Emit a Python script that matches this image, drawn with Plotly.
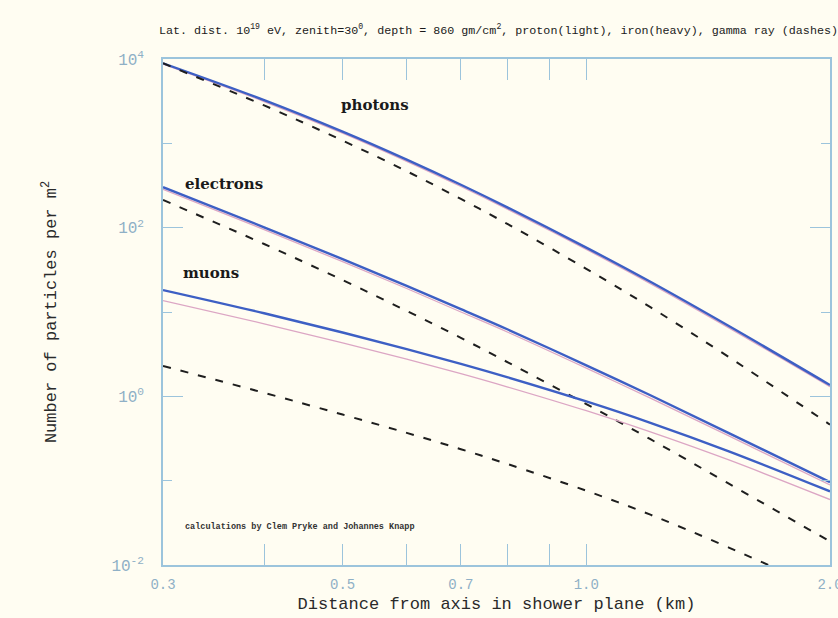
import math
import plotly.graph_objects as go

# Distance from shower axis (km)
r_km = [0.3, 0.4, 0.5, 0.6, 0.7, 0.8, 1.0, 1.2, 1.5, 2.0]

# Particle densities per m^2
photons_iron = [8900, 3254, 1377, 641, 323, 173, 58.0, 22.8, 6.81, 1.36]
photons_proton = [8700, 3130, 1320, 612, 308, 165, 55.2, 21.7, 6.48, 1.30]
photons_gamma = [8900, 2818, 1079, 467, 219, 110, 32.5, 11.4, 2.92, 0.462]

electrons_iron = [302, 101, 42.4, 20.4, 10.8, 6.2, 2.33, 1.03, 0.367, 0.096]
electrons_proton = [285, 95, 39.5, 19.0, 10.0, 5.75, 2.16, 0.95, 0.34, 0.089]
electrons_gamma = [213, 64, 23.9, 10.3, 4.93, 2.53, 0.81, 0.31, 0.092, 0.019]

muons_iron = [18.2, 9.66, 5.71, 3.63, 2.43, 1.68, 0.871, 0.486, 0.223, 0.0746]
muons_proton = [13.65, 7.25, 4.31, 2.76, 1.86, 1.29, 0.675, 0.379, 0.176, 0.0597]
muons_gamma = [2.29, 1.10, 0.608, 0.369, 0.236, 0.157, 0.076, 0.0395, 0.0161, 0.0047]

x_tick_vals = [0.3, 0.5, 0.7, 1.0, 2.0]
x_tick_text = ["0.3", "0.5", "0.7", "1.0", "2.0"]
x_minor_vals = [0.4, 0.6, 0.8, 0.9]
y_tick_vals = [0.01, 1, 100, 10000]
y_tick_text = ["10<sup>-2</sup>", "10<sup>0</sup>", "10<sup>2</sup>", "10<sup>4</sup>"]
y_minor_vals = [0.1, 10, 1000]

BG = "#fffdf2"
AXIS = "#9cc4dc"
TICKFONT = "#8fb0c6"
HEAVY = "#3d5fc4"
LIGHT = "#dca6c4"
GAMMA = "#1e1e1e"
MONO = "Liberation Mono"

fig = go.Figure()

for proton, iron, gamma in [
    (photons_proton, photons_iron, photons_gamma),
    (electrons_proton, electrons_iron, electrons_gamma),
    (muons_proton, muons_iron, muons_gamma),
]:
    fig.add_trace(go.Scatter(x=r_km, y=proton, mode="lines", line_shape="spline",
                             line=dict(color=LIGHT, width=1.3), showlegend=False))
    fig.add_trace(go.Scatter(x=r_km, y=iron, mode="lines", line_shape="spline",
                             line=dict(color=HEAVY, width=2.4), showlegend=False))
    fig.add_trace(go.Scatter(x=r_km, y=gamma, mode="lines", line_shape="spline",
                             line=dict(color=GAMMA, width=2, dash="8px,10px"),
                             showlegend=False))

def paper_x(px):
    return (px - 163) / 667

def paper_y(py):
    return (565 - py) / 506

labels = [("photons", 375, 105), ("electrons", 224, 184), ("muons", 211, 273)]
for text, px, py in labels:
    fig.add_annotation(text=f"<b>{text}</b>", x=paper_x(px), y=paper_y(py),
                       xref="paper", yref="paper", xanchor="center", yanchor="middle",
                       showarrow=False,
                       font=dict(family="DejaVu Serif", size=15, color="#1a1a1a"))

fig.add_annotation(text="<b>calculations by Clem Pryke and Johannes Knapp</b>",
                   x=paper_x(183), y=paper_y(527), xref="paper", yref="paper",
                   xanchor="left", yanchor="middle", showarrow=False,
                   font=dict(family=MONO, size=8.5, color="#333333"))

fig.update_layout(
    width=838, height=618,
    paper_bgcolor=BG, plot_bgcolor=BG,
    margin=dict(l=163, r=8, t=59, b=53, autoexpand=False),
    title=dict(
        text="Lat. dist. 10<sup>19</sup> eV, zenith=30<sup>0</sup>, depth = 860 gm/cm<sup>2</sup>, "
             "proton(light), iron(heavy), gamma ray (dashes)",
        x=159 / 838, xanchor="left", xref="container",
        y=1 - 30 / 618, yanchor="middle", yref="container",
        font=dict(family=MONO, size=11.7, color="#1a1a1a"),
    ),
)

fig.update_xaxes(
    type="log", range=[math.log10(0.3), math.log10(2.0) + 1e-6],
    automargin=False,
    showgrid=False, zeroline=False,
    showline=True, linecolor=AXIS, linewidth=1.5, mirror="ticks",
    ticks="inside", ticklen=21, tickwidth=1, tickcolor=AXIS,
    tickvals=x_tick_vals, ticktext=x_tick_text, ticklabelstandoff=5,
    ticklabeloverflow="allow",
    minor=dict(tickvals=x_minor_vals, ticks="inside", ticklen=21, tickcolor=AXIS, tickwidth=1),
    tickfont=dict(family=MONO, size=14, color=TICKFONT),
    title=dict(text="Distance from axis in shower plane (km)", standoff=6,
               font=dict(family=MONO, size=17, color="#2a2a2a")),
)

fig.update_yaxes(
    type="log", range=[-2, 4],
    automargin=False,
    showgrid=False, zeroline=False,
    showline=True, linecolor=AXIS, linewidth=1.5, mirror="ticks",
    ticks="inside", ticklen=20, tickwidth=1, tickcolor=AXIS,
    tickvals=y_tick_vals, ticktext=y_tick_text, ticklabelstandoff=14,
    minor=dict(tickvals=y_minor_vals, ticks="inside", ticklen=9, tickcolor=AXIS, tickwidth=1),
    tickfont=dict(family=MONO, size=16, color=TICKFONT),
    title=dict(text="Number of particles per m<sup>2</sup>", standoff=50,
               font=dict(family=MONO, size=17, color="#2a2a2a")),
)

fig.write_html("out.html")
